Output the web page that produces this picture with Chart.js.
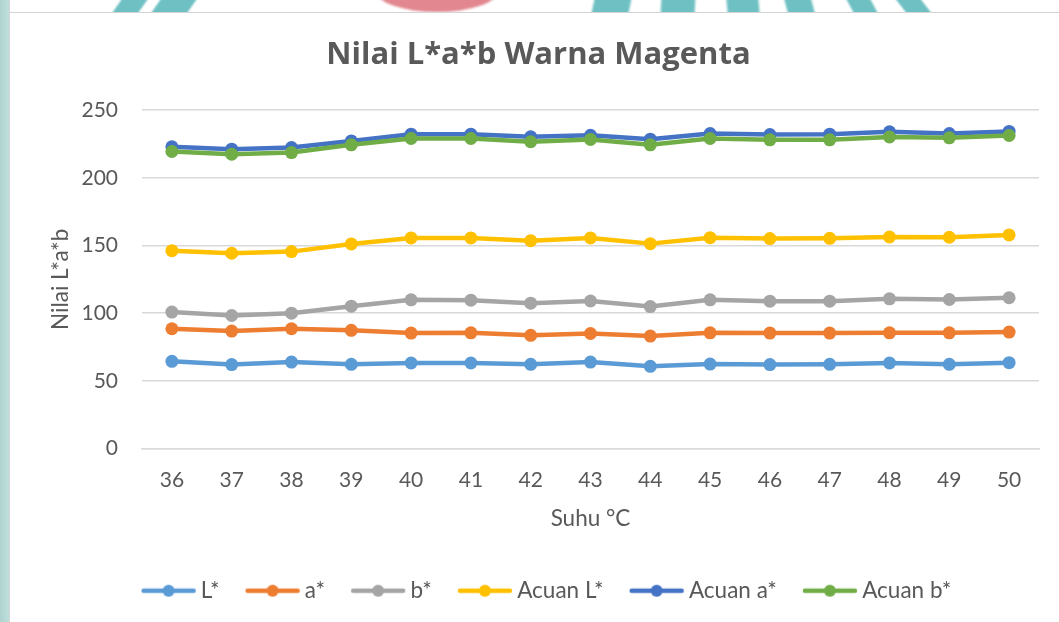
<!DOCTYPE html>
<html>
<head>
<meta charset="utf-8">
<script src="https://cdn.jsdelivr.net/npm/chart.js@4/dist/chart.umd.min.js"></script>
<style>
    html, body { margin: 0; padding: 0; background: #fff; overflow: hidden; width: 1059px; height: 622px; }
    #strip-left { position: absolute; left: 0; top: 0; width: 9px; height: 622px; background: linear-gradient(to right, #aed3cf, #bfe0dc); border-right: 1px solid #d4d4d4; }
    #strip-top { position: absolute; left: 10px; top: 0; width: 1049px; height: 12px; overflow: hidden; border-bottom: 1px solid #d4d4d4; background: #fff; }
    .stripe { position: absolute; top: -4px; height: 20px; background: #6fc0c3; filter: blur(1px); }
    .blob { position: absolute; top: -30px; height: 42px; background: #e2878f; border-radius: 0 0 50% 50%; filter: blur(1px); }
    #wrap { position: absolute; left: 10px; top: 13px; width: 1057px; height: 609px; }
</style>
</head>
<body>
<div id="strip-left"></div>
<div id="strip-top">
    <div class="stripe" style="left:107px;width:26px;transform:skewX(-35deg)"></div>
    <div class="stripe" style="left:146px;width:36px;transform:skewX(-35deg)"></div>
    <div class="blob" style="left:366px;width:122px"></div>
    <div class="stripe" style="left:583px;width:37px;transform:skewX(-12deg)"></div>
    <div class="stripe" style="left:651px;width:34px;transform:skewX(-3deg)"></div>
    <div class="stripe" style="left:717px;width:32px;transform:skewX(5deg)"></div>
    <div class="stripe" style="left:776px;width:27px;transform:skewX(15deg)"></div>
    <div class="stripe" style="left:840px;width:24px;transform:skewX(28deg)"></div>
    <div class="stripe" style="left:891px;width:25px;transform:skewX(38deg)"></div>
</div>
<div id="wrap"><canvas id="chart" width="1057" height="609"></canvas></div>
<script>
// data
const suhu = ['36', '37', '38', '39', '40', '41', '42', '43', '44', '45', '46', '47', '48', '49', '50'];
const seriesNames = ['L*', 'a*', 'b*', 'Acuan L*', 'Acuan a*', 'Acuan b*'];
const nilaiL = [64.4, 62.0, 63.9, 62.2, 63.2, 63.2, 62.2, 63.9, 60.7, 62.4, 62.0, 62.2, 63.2, 62.2, 63.4];
const nilaiA = [88.5, 86.8, 88.5, 87.3, 85.3, 85.5, 83.6, 85.0, 83.1, 85.5, 85.3, 85.3, 85.5, 85.5, 86.0];
const nilaiB = [100.8, 98.3, 100.0, 105.2, 109.9, 109.6, 107.4, 109.0, 104.9, 109.9, 108.9, 108.9, 110.6, 110.1, 111.4];
const acuanL = [146.2, 144.3, 145.5, 151.2, 155.6, 155.6, 153.6, 155.6, 151.4, 155.8, 155.1, 155.3, 156.3, 156.1, 157.8];
const acuanA = [222.9, 221.2, 222.4, 227.3, 232.3, 232.3, 230.3, 231.5, 228.6, 232.8, 232.0, 232.3, 234.0, 232.8, 234.3];
const acuanB = [219.5, 217.5, 218.7, 224.4, 229.1, 229.1, 226.7, 228.4, 224.4, 229.1, 228.1, 228.1, 230.2, 229.6, 231.3];
const yTicks = [0, 50, 100, 150, 200, 250];

const colors = ['#5b9bd5', '#ed7d31', '#a5a5a5', '#ffc000', '#4472c4', '#70ad47'];
const allValues = [nilaiL, nilaiA, nilaiB, acuanL, acuanA, acuanB];
const textColor = '#595959';
const font = 'Lato, "Open Sans", sans-serif';

// legend icon: short line with a dot in the middle (excel style)
function legendIcon(color) {
    const c = document.createElement('canvas');
    c.width = 100;
    c.height = 16;
    const g = c.getContext('2d');
    g.strokeStyle = color;
    g.lineWidth = 4.5;
    g.lineCap = 'round';
    g.beginPath();
    g.moveTo(36, 8);
    g.lineTo(86, 8);
    g.stroke();
    g.fillStyle = color;
    g.beginPath();
    g.arc(61, 8, 6, 0, Math.PI * 2);
    g.fill();
    return c;
}
const icons = colors.map(legendIcon);

const datasets = seriesNames.map((name, i) => ({
    label: name,
    data: allValues[i],
    borderColor: colors[i],
    backgroundColor: colors[i],
    borderWidth: 4.5,
    pointRadius: 6.5,
    pointHoverRadius: 6.5,
    pointBorderWidth: 0,
    borderJoinStyle: 'round',
    tension: 0,
    order: seriesNames.length - i
}));

new Chart(document.getElementById('chart'), {
    type: 'line',
    data: { labels: suhu, datasets: datasets },
    options: {
        responsive: false,
        animation: false,
        layout: { padding: { left: 0, right: 0, top: 0, bottom: 10 } },
        plugins: {
            title: {
                display: true,
                text: 'Nilai L*a*b Warna Magenta',
                color: textColor,
                font: { family: '"Open Sans", Lato, sans-serif', size: 31, weight: 'bold' },
                padding: { top: 24, bottom: 36 }
            },
            legend: {
                position: 'bottom',
                labels: {
                    color: textColor,
                    font: { family: font, size: 22.5 },
                    usePointStyle: true,
                    pointStyleWidth: 64,
                    padding: 10,
                    sort: (a, b) => a.datasetIndex - b.datasetIndex,
                    generateLabels: (chart) => {
                        const items = Chart.defaults.plugins.legend.labels.generateLabels(chart);
                        items.forEach(it => { it.pointStyle = icons[it.datasetIndex]; });
                        return items;
                    }
                }
            },
            tooltip: { enabled: false }
        },
        scales: {
            x: {
                offset: true,
                afterFit: (axis) => { axis.height = 121; },
                grid: { display: false, drawTicks: false },
                border: { color: '#d9d9d9', width: 1.5 },
                ticks: { color: textColor, font: { family: font, size: 21 }, padding: 19 },
                title: {
                    display: true,
                    text: 'Suhu °C',
                    color: textColor,
                    font: { family: font, size: 22.5 },
                    padding: { top: 4, bottom: 37 }
                }
            },
            y: {
                min: 0,
                max: 250,
                afterBuildTicks: (axis) => { axis.ticks = yTicks.map(v => ({ value: v })); },
                afterFit: (axis) => { axis.width = 132; },
                grid: { color: '#d9d9d9', lineWidth: 1.5, drawTicks: false },
                border: { display: false },
                ticks: { color: textColor, font: { family: font, size: 21 }, padding: 24 },
                title: {
                    display: true,
                    text: 'Nilai L*a*b',
                    color: textColor,
                    font: { family: font, size: 22.5 },
                    padding: { top: 37, bottom: 0 }
                }
            },
            // empty right-hand spacer so the title and legend stay centred on the whole chart
            spacer: {
                type: 'linear',
                position: 'right',
                afterFit: (axis) => { axis.width = 28; },
                grid: { display: false },
                border: { display: false },
                ticks: { display: false }
            }
        }
    }
});
</script>
</body>
</html>
